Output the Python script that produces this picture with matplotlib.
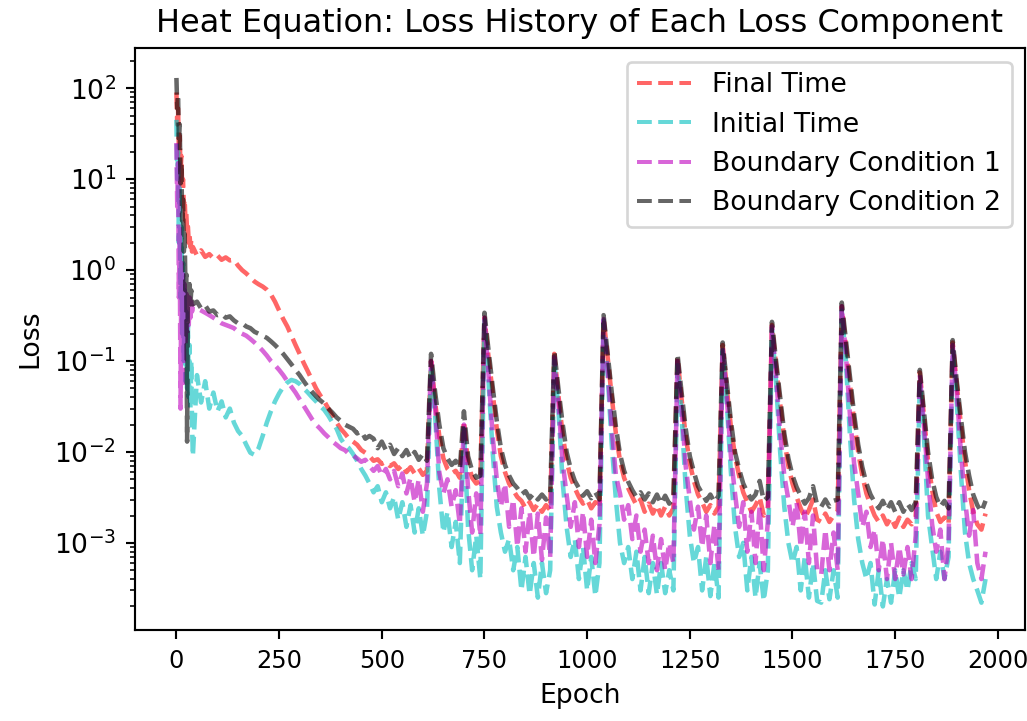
import matplotlib
matplotlib.use("Agg")
import matplotlib.pyplot as plt

# Epoch grid (x values)
epochs = list(range(0, 40, 2)) + list(range(40, 1980, 10))

final_time = [
    90, 40, 60, 20, 30, 12, 18, 8, 10, 5, 6, 3.5, 4.2, 2.6, 3.0, 2.0, 2.4, 1.8, 2.1, 1.6,
    1.8, 1.45, 1.65, 1.4, 1.5, 1.35, 1.45, 1.3, 1.38, 1.28,
    1.3, 1.12, 1.0, 0.92, 0.83, 0.75, 0.7, 0.66, 0.61,
    0.54, 0.45, 0.36, 0.29, 0.24, 0.19, 0.15, 0.12, 0.095, 0.077,
    0.062, 0.05, 0.042, 0.036, 0.03, 0.025, 0.021, 0.018, 0.016, 0.014,
    0.013, 0.012, 0.0105, 0.0098, 0.009, 0.008, 0.0083, 0.0074, 0.0078,
    0.007, 0.0075, 0.0065, 0.0072, 0.006, 0.0068, 0.0058, 0.0066, 0.0056, 0.0062,
    0.1, 0.035, 0.015, 0.0085, 0.0065, 0.0058, 0.0062, 0.0052, 0.022, 0.0075,
    0.0052, 0.0045, 0.0048, 0.3, 0.11, 0.045, 0.018, 0.009, 0.006, 0.0045,
    0.0038, 0.0032, 0.0029, 0.0024, 0.0028, 0.0023, 0.0027, 0.0022, 0.0026, 0.0023,
    0.12, 0.042, 0.016, 0.008, 0.0052, 0.004, 0.0032, 0.0027, 0.003, 0.0024,
    0.0028, 0.0024, 0.3, 0.11, 0.04, 0.016, 0.008, 0.0052, 0.004, 0.0032,
    0.0026, 0.003, 0.0022, 0.0027, 0.0021, 0.0026, 0.002, 0.0025, 0.002, 0.0024,
    0.11, 0.038, 0.015, 0.0075, 0.0048, 0.0034, 0.0028, 0.0022, 0.0026, 0.0021,
    0.0025, 0.15, 0.05, 0.019, 0.009, 0.0055, 0.0036, 0.0028, 0.0022, 0.0026,
    0.0032, 0.002, 0.0024, 0.25, 0.09, 0.034, 0.014, 0.007, 0.0045, 0.0032,
    0.0024, 0.0019, 0.0023, 0.003, 0.0018, 0.0017, 0.0021, 0.0017, 0.002,
    0.0022, 0.4, 0.15, 0.055, 0.022, 0.01, 0.0055, 0.0035, 0.0026, 0.002,
    0.0017, 0.002, 0.0016, 0.0019, 0.0015, 0.0019, 0.0015, 0.0018, 0.0016, 0.0019,
    0.075, 0.025, 0.008, 0.0038, 0.0022, 0.0017, 0.0019, 0.0016, 0.16, 0.055,
    0.02, 0.008, 0.0038, 0.0022, 0.0016, 0.0014, 0.0021,
]

initial_time = [
    45, 10, 20, 2, 8, 0.5, 3, 0.2, 1.2, 0.1, 0.6, 0.06, 0.35, 0.05, 0.25, 0.04, 0.15, 0.03, 0.1, 0.02,
    0.009, 0.07, 0.035, 0.06, 0.03, 0.045, 0.028, 0.036, 0.024, 0.03,
    0.021, 0.017, 0.015, 0.012, 0.0098, 0.0093, 0.011, 0.015, 0.021,
    0.028, 0.036, 0.044, 0.052, 0.058, 0.062, 0.06, 0.056, 0.05, 0.045,
    0.04, 0.036, 0.032, 0.029, 0.025, 0.021, 0.018, 0.014, 0.012, 0.011,
    0.0095, 0.008, 0.0065, 0.0055, 0.0045, 0.0036, 0.0042, 0.0028, 0.0036,
    0.0024, 0.0032, 0.0018, 0.0028, 0.0015, 0.0026, 0.0013, 0.0024, 0.0012, 0.0022,
    0.09, 0.025, 0.004, 0.0013, 0.0022, 0.0009, 0.0017, 0.0006, 0.018, 0.0015,
    0.0005, 0.0012, 0.0004, 0.28, 0.06, 0.01, 0.0025, 0.0013, 0.0008, 0.0011,
    0.0005, 0.0009, 0.0003, 0.0007, 0.00027, 0.0006, 0.00025, 0.0006, 0.00028, 0.0005,
    0.1, 0.03, 0.005, 0.0015, 0.0007, 0.0011, 0.0004, 0.0009, 0.0003, 0.0007,
    0.00026, 0.0006, 0.28, 0.07, 0.012, 0.003, 0.001, 0.0006, 0.0009, 0.0004,
    0.0008, 0.0003, 0.0007, 0.00028, 0.0006, 0.00027, 0.0006, 0.00028, 0.0005, 0.0003,
    0.09, 0.025, 0.004, 0.0012, 0.0006, 0.0009, 0.0003, 0.0007, 0.00026, 0.0006,
    0.00025, 0.13, 0.035, 0.006, 0.0015, 0.0007, 0.001, 0.0003, 0.0007, 0.00025,
    0.0006, 0.00023, 0.0005, 0.22, 0.06, 0.01, 0.0025, 0.001, 0.0006, 0.0009,
    0.0003, 0.0007, 0.00025, 0.0006, 0.00023, 0.00022, 0.0005, 0.00024, 0.0005,
    0.00025, 0.36, 0.1, 0.015, 0.003, 0.0011, 0.0006, 0.0004, 0.0006, 0.00021,
    0.0005, 0.0002, 0.0004, 0.00022, 0.0005, 0.00025, 0.0005, 0.0003, 0.0006, 0.0004,
    0.06, 0.015, 0.002, 0.0009, 0.0004, 0.0008, 0.0004, 0.0007, 0.13, 0.035,
    0.006, 0.0013, 0.0006, 0.0004, 0.0003, 0.00022, 0.0004,
]

boundary_1 = [
    25, 5, 15, 0.5, 3, 0.03, 1.2, 0.05, 0.9, 0.1, 0.7, 0.15, 0.55, 0.2, 0.5, 0.25, 0.5, 0.3, 0.45, 0.35,
    0.4, 0.38, 0.36, 0.34, 0.32, 0.3, 0.28, 0.26, 0.25, 0.24,
    0.23, 0.21, 0.2, 0.19, 0.175, 0.16, 0.145, 0.13, 0.115,
    0.1, 0.09, 0.08, 0.07, 0.06, 0.052, 0.045, 0.038, 0.032, 0.027,
    0.023, 0.02, 0.018, 0.016, 0.0145, 0.013, 0.012, 0.011, 0.0105, 0.0095,
    0.0092, 0.0085, 0.0078, 0.0082, 0.007, 0.0062, 0.007, 0.0055, 0.0065,
    0.005, 0.0062, 0.0042, 0.0058, 0.0035, 0.0052, 0.0028, 0.005, 0.0022, 0.0045,
    0.1, 0.03, 0.006, 0.0035, 0.005, 0.0025, 0.0038, 0.0016, 0.02, 0.004,
    0.0013, 0.0035, 0.0012, 0.3, 0.07, 0.015, 0.005, 0.0025, 0.0045, 0.0015,
    0.003, 0.0009, 0.0024, 0.0008, 0.0022, 0.0007, 0.0021, 0.00065, 0.0019, 0.0007,
    0.11, 0.035, 0.008, 0.0034, 0.0015, 0.0028, 0.0009, 0.0022, 0.0007, 0.0018,
    0.0006, 0.0016, 0.29, 0.08, 0.018, 0.0055, 0.0035, 0.0018, 0.0026, 0.0011,
    0.002, 0.0008, 0.0014, 0.0006, 0.0012, 0.0005, 0.0011, 0.0005, 0.001, 0.0006,
    0.1, 0.03, 0.007, 0.003, 0.0014, 0.0025, 0.0009, 0.002, 0.0006, 0.0016,
    0.0005, 0.14, 0.04, 0.009, 0.0035, 0.0015, 0.0028, 0.0008, 0.0022, 0.0006,
    0.0025, 0.0005, 0.0017, 0.24, 0.07, 0.016, 0.0055, 0.003, 0.0015, 0.0028,
    0.0009, 0.0022, 0.0006, 0.002, 0.0005, 0.00045, 0.0014, 0.0005, 0.0013,
    0.0005, 0.4, 0.12, 0.025, 0.0075, 0.0035, 0.0015, 0.0022, 0.0009, 0.0014,
    0.0005, 0.0011, 0.0004, 0.001, 0.0004, 0.0009, 0.00045, 0.0009, 0.0004, 0.0012,
    0.07, 0.02, 0.005, 0.0016, 0.0008, 0.0014, 0.0004, 0.001, 0.15, 0.045,
    0.01, 0.003, 0.0012, 0.0023, 0.0006, 0.0004, 0.0008,
]

boundary_2 = [
    130, 60, 85, 25, 40, 9, 15, 3.5, 6, 1.6, 2.5, 0.6, 0.9, 0.013, 0.8, 0.5, 0.7, 0.42, 0.6, 0.45,
    0.42, 0.45, 0.38, 0.41, 0.35, 0.36, 0.32, 0.33, 0.3, 0.31,
    0.28, 0.26, 0.26, 0.24, 0.23, 0.21, 0.2, 0.19, 0.18,
    0.165, 0.15, 0.135, 0.12, 0.105, 0.092, 0.08, 0.07, 0.06, 0.052,
    0.046, 0.041, 0.037, 0.034, 0.03, 0.027, 0.024, 0.022, 0.02, 0.019,
    0.018, 0.016, 0.017, 0.014, 0.015, 0.014, 0.011, 0.013, 0.0105,
    0.012, 0.0095, 0.011, 0.009, 0.0105, 0.0085, 0.01, 0.0082, 0.0095, 0.008,
    0.12, 0.045, 0.02, 0.011, 0.0085, 0.0072, 0.008, 0.0065, 0.028, 0.009,
    0.0062, 0.0052, 0.0055, 0.34, 0.13, 0.052, 0.022, 0.011, 0.0072, 0.0055,
    0.0045, 0.004, 0.0034, 0.0037, 0.0031, 0.0035, 0.003, 0.0034, 0.003, 0.0033,
    0.13, 0.05, 0.021, 0.01, 0.0065, 0.0048, 0.004, 0.0033, 0.0037, 0.0031,
    0.0036, 0.003, 0.32, 0.12, 0.045, 0.019, 0.0095, 0.0062, 0.0047, 0.0038,
    0.0032, 0.0036, 0.003, 0.0035, 0.0028, 0.0034, 0.0027, 0.0033, 0.0027, 0.0032,
    0.12, 0.045, 0.018, 0.009, 0.006, 0.0042, 0.0035, 0.0029, 0.0034, 0.0028,
    0.0033, 0.16, 0.058, 0.022, 0.01, 0.0065, 0.0045, 0.0036, 0.003, 0.0034,
    0.0048, 0.0029, 0.0032, 0.27, 0.1, 0.04, 0.016, 0.0085, 0.0055, 0.0041,
    0.0033, 0.0027, 0.0031, 0.0042, 0.0026, 0.0025, 0.003, 0.0025, 0.0029,
    0.003, 0.44, 0.17, 0.065, 0.026, 0.012, 0.0068, 0.0045, 0.0034, 0.0028,
    0.0024, 0.0029, 0.0023, 0.0028, 0.0022, 0.0028, 0.0022, 0.0027, 0.0023, 0.0028,
    0.08, 0.028, 0.01, 0.005, 0.0032, 0.0025, 0.0029, 0.0024, 0.17, 0.06,
    0.024, 0.01, 0.0055, 0.0034, 0.0026, 0.0022, 0.0029,
]

labels = ["Final Time", "Initial Time", "Boundary Condition 1", "Boundary Condition 2"]
colors = ["r", "c", "m", "k"]

fig = plt.figure(figsize=(1027 / 192, 721 / 192), dpi=192)
ax = fig.add_axes([0.131, 0.126, 0.867, 0.807])

for series, lab, col in zip([final_time, initial_time, boundary_1, boundary_2], labels, colors):
    ax.plot(epochs[:len(series)], series, "--", color=col, alpha=0.6, lw=1.7, label=lab)

ax.set_yscale("log")
ax.set_xlim(-102, 2066)
ax.set_ylim(10 ** -3.96, 10 ** 2.44)
ax.tick_params(axis="x", labelsize=9)
ax.set_xlabel("Epoch")
ax.set_ylabel("Loss")
ax.set_title("Heat Equation: Loss History of Each Loss Component")
leg = ax.legend(loc="upper right")
for h in leg.get_lines():
    h.set_linewidth(1.5)

fig.savefig("out.png", dpi=192)
